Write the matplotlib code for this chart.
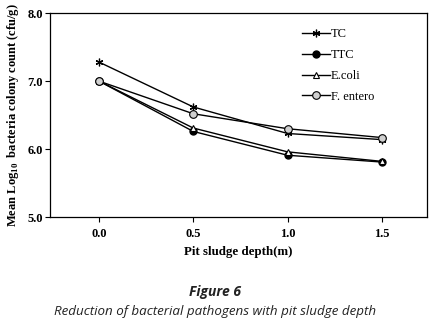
import numpy as np
import matplotlib
matplotlib.use("Agg")
import matplotlib.pyplot as plt

# data
depth = [0.0, 0.5, 1.0, 1.5]
tc = [7.28, 6.62, 6.23, 6.14]
ttc = [7.00, 6.26, 5.91, 5.81]
ecoli = [7.00, 6.31, 5.96, 5.82]
fentero = [7.00, 6.52, 6.30, 6.17]
xticks = [0.0, 0.5, 1.0, 1.5]
yticks = [5.0, 6.0, 7.0, 8.0]

plt.rcParams['font.family'] = ['Liberation Serif', 'DejaVu Serif']
plt.rcParams['mathtext.fontset'] = 'custom'
plt.rcParams['mathtext.rm'] = 'Liberation Serif:bold'
plt.rcParams['mathtext.bf'] = 'Liberation Serif:bold'

fig = plt.figure(figsize=(4.31, 3.28), dpi=100)
ax = fig.add_axes([0.116, 0.338, 0.875, 0.622])

ax.plot(depth, tc, color='black', lw=1, marker=(6, 2, 0), ms=5.5, mew=0.9, label='TC')
ax.plot(depth, ttc, color='black', lw=1, marker='o', ms=5, mfc='black', label='TTC')
ax.plot(depth, ecoli, color='black', lw=1, marker='^', ms=5, mfc='white', mew=0.8, label='E.coli')
ax.plot(depth, fentero, color='black', lw=1, marker='o', ms=5.5, mfc='#d0d0d0', mew=0.8, label='F. entero')

ax.set_xlim(-0.26, 1.74)
ax.set_ylim(5.0, 8.0)
ax.set_xticks(xticks)
ax.set_yticks(yticks)
ax.set_xticklabels(['%.1f' % v for v in xticks], fontweight='bold', fontsize=9)
ax.set_yticklabels(['%.1f' % v for v in yticks], fontweight='bold', fontsize=9)
ax.tick_params(axis='y', direction='out', length=3.5, width=0.8, pad=1.5)
ax.tick_params(axis='x', direction='out', length=3.5, width=0.8, pad=4)
for s in ax.spines.values():
    s.set_linewidth(0.9)

ax.set_xlabel('Pit sludge depth(m)', fontweight='bold', fontsize=9.3, labelpad=5)
ax.set_ylabel(r'Mean Log$_{\mathbf{10}}$  bacteria colony count (cfu/g)', fontweight='bold', fontsize=9, labelpad=5)

leg = ax.legend(loc='upper right', frameon=False, fontsize=9, handlelength=2.2,
                handletextpad=0.1, labelspacing=0.7, bbox_to_anchor=(0.89, 0.98))

fig.text(0.5, 0.098, 'Figure 6', ha='center', fontsize=10, fontweight='bold', style='italic',
         family=['Open Sans', 'DejaVu Sans'], color='#222222')
fig.text(0.5, 0.04, 'Reduction of bacterial pathogens with pit sludge depth', ha='center', fontsize=9.6,
         style='italic', family=['Open Sans', 'DejaVu Sans'], color='#222222')

fig.savefig('out.png', dpi=100)
